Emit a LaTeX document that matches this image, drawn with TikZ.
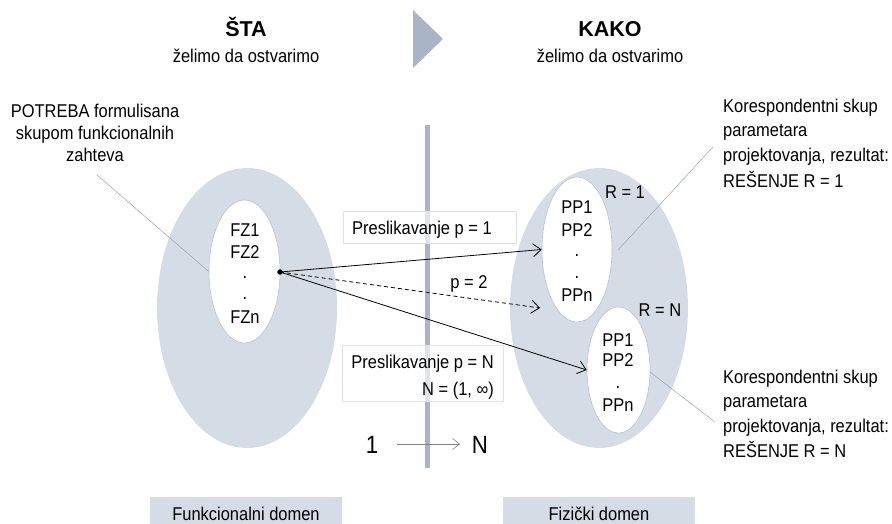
\documentclass[tikz,border=0pt]{standalone}
\usepackage{fontspec}
\setmainfont{Liberation Sans}[FakeStretch=0.89]
\newfontfamily\headfont{Liberation Sans}
\usetikzlibrary{shapes.geometric,arrows.meta}
\definecolor{domfill}{HTML}{D6DCE6}
\definecolor{setline}{HTML}{B9C2D2}
\definecolor{barcol}{HTML}{A9B4C7}
\definecolor{leadcol}{HTML}{9AA3B3}
\definecolor{boxline}{HTML}{E2E2E2}
\begin{document}
\begin{tikzpicture}[x=1pt,y=-1pt,
  font=\fontsize{18.5}{22}\selectfont,
  domshape/.style={ellipse, fill=domfill, inner sep=0},
  setshape/.style={ellipse, fill=white, draw=setline, line width=0.6pt, inner sep=0},
  txt/.style={anchor=base, inner sep=0},
  ltxt/.style={anchor=base west, inner sep=0},
  mapbox/.style={draw=boxline, fill=white, fill opacity=0.65, line width=0.6pt},
  labelbox/.style={fill=domfill},
  maparrow/.style={line width=0.8pt, -{Straight Barb[length=8pt,width=13pt]}},
  lead/.style={draw=leadcol, line width=0.5pt},
  titletxt/.style={anchor=base, inner sep=0, font=\headfont\fontsize{21.5}{24}\selectfont\bfseries}]
\useasboundingbox (0,0) rectangle (892,524);

% headings and the step marker between them
\node[titletxt] (whatT) at (246,37) {ŠTA};
\node[txt] (whatS) at (246,63) {želimo da ostvarimo};
\node[titletxt] (howT) at (610,37) {KAKO};
\node[txt] (howS) at (610,63) {želimo da ostvarimo};
\fill[barcol] (413,10) -- (413,68) -- (443,39) -- cycle;

% divider between the two domains
\fill[barcol] (424.5,125) rectangle (429.5,468);

% functional domain
\node[domshape, minimum width=180pt, minimum height=280pt] (fdom) at (247,308) {};
\node[setshape, minimum width=71pt, minimum height=143pt] (fset) at (244.5,271.5) {};
\node[txt] (fz1) at (245,236) {FZ1};
\node[txt] (fz2) at (245,258) {FZ2};
\node[txt] (fzd1) at (245,278) {.};
\node[txt] (fzd2) at (245,299) {.};
\node[txt] (fzn) at (245,323) {FZn};

% physical domain
\node[domshape, minimum width=178pt, minimum height=280pt] (pdom) at (599,308) {};
\node[setshape, minimum width=70pt, minimum height=145pt] (pset1) at (577,249.5) {};
\node[setshape, minimum width=63pt, minimum height=126pt] (psetN) at (618.5,370) {};
\node[txt] (pa1) at (577,214) {PP1};
\node[txt] (pa2) at (577,236) {PP2};
\node[txt] (pad1) at (577,256) {.};
\node[txt] (pad2) at (577,278) {.};
\node[txt] (pan) at (577,301) {PPn};
\node[txt] (pb1) at (618,346) {PP1};
\node[txt] (pb2) at (618,366) {PP2};
\node[txt] (pbd) at (618,388) {.};
\node[txt] (pbn) at (618,411) {PPn};
\node[txt] (r1) at (625,198) {R = 1};
\node[txt] (rN) at (660,316) {R = N};

% mapping labels
\draw[mapbox] (343,211) rectangle (516,243);
\node[ltxt] (map1) at (352,234) {Preslikavanje p = 1};
\draw[mapbox] (342,345) rectangle (503,401);
\node[anchor=base east, inner sep=0] (mapN) at (494,368) {Preslikavanje p = N};
\node[anchor=base east, inner sep=0] (mapNr) at (494,395) {N = (1, ∞)};
\node[txt] (map2) at (469,288) {p = 2};

% mappings from the requirement set
\node[circle, fill=black, inner sep=0, minimum size=5.5pt] (src) at (280,272) {};
\coordinate (dashend) at (540,308);
\draw[maparrow] (src.center) -- (pset1.west);
\draw[maparrow, dash pattern=on 4pt off 3pt] (src.center) -- (dashend);
\draw[maparrow] (src.center) -- (psetN.west);

% 1 to N
\node[txt, font=\fontsize{25}{28}\selectfont] (one) at (372,453) {1};
\node[txt, font=\fontsize{25}{28}\selectfont] (many) at (480,453) {N};
\draw[draw=gray, line width=0.6pt, -{Straight Barb[length=7pt,width=11pt]}] (397,444) -- (460,444);

% callouts
\node[txt] (needA) at (95,118) {POTREBA formulisana};
\node[txt] (needB) at (95,140) {skupom funkcionalnih};
\node[txt] (needC) at (95,162) {zahteva};
\coordinate (needEnd) at (97,175);
\draw[lead] (needEnd) -- (fset.west);

\node[ltxt] (res1a) at (723,113) {Korespondentni skup};
\node[ltxt] (res1b) at (723,137) {parametara};
\node[ltxt] (res1c) at (723,162) {projektovanja, rezultat:};
\node[ltxt] (res1d) at (723,187) {REŠENJE R = 1};
\coordinate (res1tip) at (618,250);
\coordinate (res1end) at (713,147);
\draw[lead] (res1tip) -- (res1end);

\node[ltxt] (resNa) at (723,383) {Korespondentni skup};
\node[ltxt] (resNb) at (723,407) {parametara};
\node[ltxt] (resNc) at (723,432) {projektovanja, rezultat:};
\node[ltxt] (resNd) at (723,457) {REŠENJE R = N};
\coordinate (resNtip) at (650,372);
\coordinate (resNend) at (715,422);
\draw[lead] (resNtip) -- (resNend);

% domain captions
\fill[labelbox] (150,497) rectangle (342,524);
\node[txt] (fcap) at (246,520) {Funkcionalni domen};
\fill[labelbox] (503,497) rectangle (695,524);
\node[txt] (pcap) at (599,520) {Fizički domen};
\end{tikzpicture}
\end{document}
